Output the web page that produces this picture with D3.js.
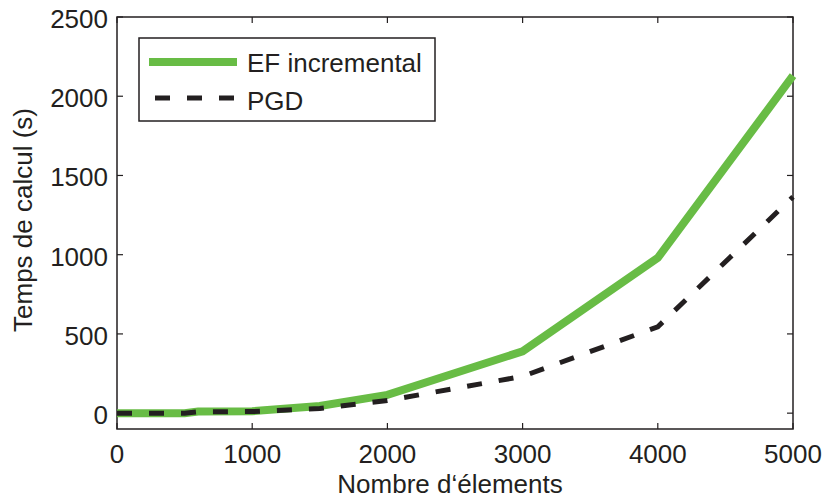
<!DOCTYPE html>
<meta charset="utf-8">
<head>
    <title>Temps de calcul</title>
    <script type="text/javascript" src="https://cdn.jsdelivr.net/npm/d3@7"></script>
    <style>
        body { margin: 0; background: #fff; }
        text { font-family: "Liberation Sans", Arial, sans-serif; fill: #231f20; font-size: 26px; }
    </style>
</head>
<body>
<div id="chart"></div>
<script>
    // data
    var elements = [0, 500, 600, 1000, 1500, 2000, 3000, 4000, 5000];
    var efIncremental = [0, 0, 10, 12, 45, 115, 390, 980, 2130];
    var pgd = [0, 0, 8, 10, 30, 80, 232, 545, 1365];
    var xTicks = [0, 1000, 2000, 3000, 4000, 5000];
    var yTicks = [0, 500, 1000, 1500, 2000, 2500];
    var seriesNames = ["EF incremental", "PGD"];

    var width = 825, height = 499;
    var margin = {top: 17, right: 32, bottom: 70, left: 117};

    var svg = d3.select('#chart')
        .append('svg')
        .attr('width', width)
        .attr('height', height);

    var x = d3.scaleLinear().domain([0, 5000]).range([margin.left, width - margin.right]);
    var y = d3.scaleLinear().domain([-100, 2500]).range([height - margin.bottom, margin.top]);

    var ink = '#231f20';

    // frame
    svg.append('rect')
        .attr('x', x(0)).attr('y', y(2500))
        .attr('width', x(5000) - x(0)).attr('height', y(-100) - y(2500))
        .attr('fill', 'none').attr('stroke', ink).attr('stroke-width', 1.5);

    // ticks inward on all four sides
    var tickLen = 6;
    var g = svg.append('g');
    xTicks.forEach(function(t) {
        g.append('line').attr('x1', x(t)).attr('x2', x(t))
            .attr('y1', y(-100)).attr('y2', y(-100) - tickLen)
            .attr('stroke', ink).attr('stroke-width', 1.2);
        g.append('line').attr('x1', x(t)).attr('x2', x(t))
            .attr('y1', y(2500)).attr('y2', y(2500) + tickLen)
            .attr('stroke', ink).attr('stroke-width', 1.2);
        g.append('text').attr('x', x(t)).attr('y', 463)
            .attr('text-anchor', 'middle')
            .text(t);
    });
    yTicks.forEach(function(t) {
        g.append('line').attr('x1', x(0)).attr('x2', x(0) + tickLen)
            .attr('y1', y(t)).attr('y2', y(t))
            .attr('stroke', ink).attr('stroke-width', 1.2);
        g.append('line').attr('x1', x(5000)).attr('x2', x(5000) - tickLen)
            .attr('y1', y(t)).attr('y2', y(t))
            .attr('stroke', ink).attr('stroke-width', 1.2);
        g.append('text').attr('x', 108).attr('y', y(t) + 11)
            .attr('text-anchor', 'end')
            .text(t);
    });

    // axis titles
    svg.append('text')
        .attr('x', 450).attr('y', 493)
        .attr('text-anchor', 'middle')
        .text('Nombre d\u2018élements');
    svg.append('text')
        .attr('transform', 'translate(32,220) rotate(-90)')
        .attr('text-anchor', 'middle')
        .text('Temps de calcul (s)');

    // lines
    var line = d3.line()
        .x(function(d, i) { return x(elements[i]); })
        .y(function(d) { return y(d); });

    svg.append('path').datum(efIncremental)
        .attr('d', line)
        .attr('fill', 'none').attr('stroke', '#68bc45').attr('stroke-width', 8);

    svg.append('path').datum(pgd)
        .attr('d', line)
        .attr('fill', 'none').attr('stroke', ink).attr('stroke-width', 5)
        .attr('stroke-dasharray', '15,17');

    // legend
    var legend = svg.append('g');
    legend.append('rect')
        .attr('x', 139).attr('y', 38).attr('width', 296).attr('height', 83)
        .attr('fill', '#fff').attr('stroke', ink).attr('stroke-width', 1.5);
    legend.append('line').attr('x1', 149).attr('x2', 237).attr('y1', 62).attr('y2', 62)
        .attr('stroke', '#68bc45').attr('stroke-width', 8);
    legend.append('line').attr('x1', 155).attr('x2', 237).attr('y1', 98).attr('y2', 98)
        .attr('stroke', ink).attr('stroke-width', 5).attr('stroke-dasharray', '15,17');
    legend.append('text').attr('x', 247).attr('y', 72).text(seriesNames[0]);
    legend.append('text').attr('x', 247).attr('y', 110).text(seriesNames[1]);
</script>
</body>
</html>
